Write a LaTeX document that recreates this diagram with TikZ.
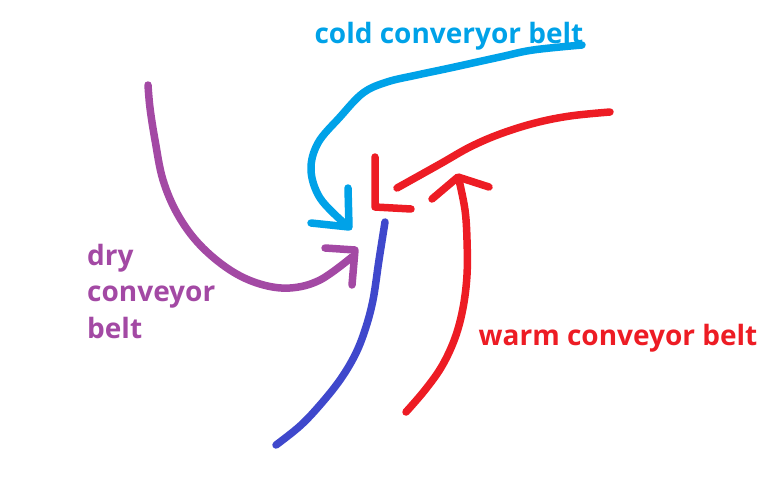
\documentclass[tikz,border=0pt]{standalone}
\usepackage{fontspec}
\setmainfont{Open Sans}
\usetikzlibrary{positioning}
\definecolor{paintcyan}{RGB}{0,162,232}
\definecolor{paintred}{RGB}{237,28,36}
\definecolor{paintpurple}{RGB}{163,73,164}
\definecolor{paintblue}{RGB}{63,72,204}
\tikzset{
  stroke/.style={line width=7.5pt, line cap=round, line join=round},
  beltlabel/.style={font=\bfseries\fontsize{28}{32}\selectfont, inner sep=0pt, anchor=base},
  sidelabel/.style={font=\bfseries\fontsize{28}{36.5}\selectfont, inner sep=0pt, align=left, anchor=base west}
}
\begin{document}
\begin{tikzpicture}[x=1pt, y=-1pt]
      \useasboundingbox (0,0) rectangle (768,479);
      \node[beltlabel, text=paintcyan] (coldlabel) at (449,43) {cold converyor belt};
      \node[beltlabel, text=paintred] (warmlabel) at (618,345) {warm conveyor belt};
      \node[sidelabel, text=paintpurple] (drylabel) at (87,338) {dry\\conveyor\\belt};
      \draw[stroke, paintcyan] plot[smooth, tension=0.6] coordinates {(582,45) (533,50) (500,57) (450,68) (417,75) (387,82) (363,93) (340,117) (318,143) (311,170) (320,198) (343,222)};
      \draw[stroke, paintcyan] (348,188) -- (349,227) -- (311,223);
      \draw[stroke, paintred] plot[smooth, tension=0.6] coordinates {(610,112) (570,116) (535,123) (500,134) (470,147) (440,164) (397,188)};
      \draw[stroke, paintred] (375,157) -- (375,207) -- (411,209);
      \draw[stroke, paintred] plot[smooth, tension=0.6] coordinates {(406,412) (425,390) (442,366) (455,338) (463,308) (467,275) (467,240) (465,210) (459,180)};
      \draw[stroke, paintred] (432,199) -- (458,177) -- (489,187);
      \draw[stroke, paintblue] plot[smooth, tension=0.6] coordinates {(385,222) (379,260) (373,300) (365,330) (355,355) (340,380) (320,405) (300,426) (276,445)};
      \draw[stroke, paintpurple] plot[smooth, tension=0.6] coordinates {(148,85) (150,108) (155,140) (163,180) (178,215) (200,245) (230,270) (260,284) (290,288) (320,280) (352,257)};
      \draw[stroke, paintpurple] (325,248) -- (355,250) -- (352,285);
    \end{tikzpicture}
\end{document}
